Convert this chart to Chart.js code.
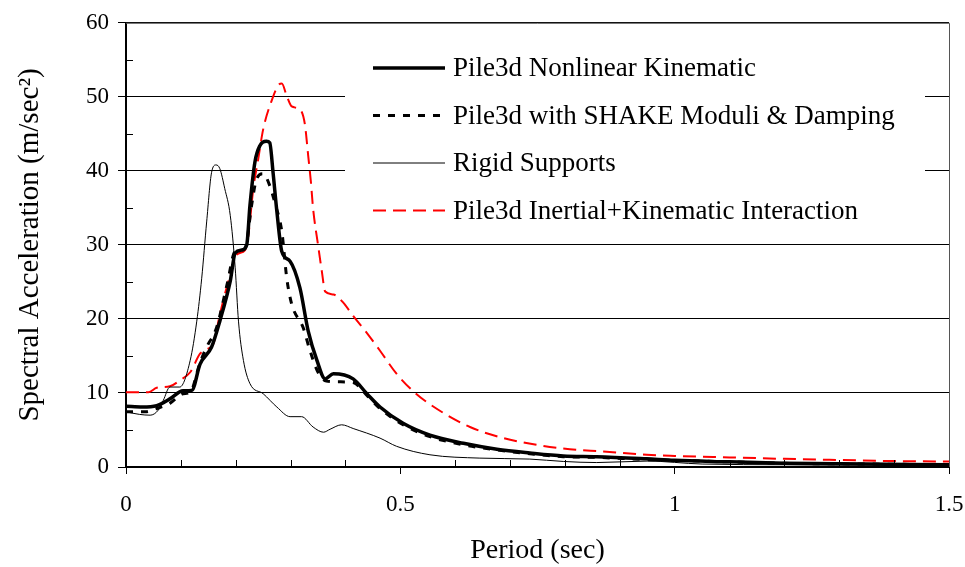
<!DOCTYPE html>
<html>
<head>
<meta charset="utf-8">
<title>Spectral Acceleration vs Period</title>
<script src="https://cdn.jsdelivr.net/npm/chart.js@4.4.1/dist/chart.umd.min.js"></script>
<style>
    body { margin: 0; background: #fff; }
    #wrap { width: 965px; height: 567px; position: relative; }
</style>
</head>
<body>
<div id="wrap"><canvas id="spectraChart"></canvas></div>
<script>
// Series data (period in sec, acceleration in m/sec^2)
const seriesNames = [
    'Pile3d Nonlinear Kinematic',
    'Pile3d with SHAKE Moduli & Damping',
    'Rigid Supports',
    'Pile3d Inertial+Kinematic Interaction'
];

const nonlinearPeriod = [0, 0.03, 0.056, 0.08, 0.104, 0.12, 0.135, 0.156, 0.171, 0.19, 0.199, 0.211, 0.22, 0.226, 0.235, 0.244, 0.256, 0.262, 0.268, 0.275, 0.284, 0.299, 0.317, 0.332, 0.348, 0.363, 0.378, 0.414, 0.439, 0.463, 0.505, 0.554, 0.615, 0.676, 0.736, 0.797, 0.858, 0.949, 1.0, 1.1, 1.2, 1.35, 1.5];
const nonlinearAccel = [8.2, 8.1, 8.3, 9.2, 10.3, 10.35, 13.9, 16.2, 19.7, 25.1, 28.9, 29.3, 30, 35.4, 41.2, 43.4, 44.0, 43.8, 39.8, 34.5, 29.1, 27.8, 24.2, 18.4, 14.4, 11.9, 12.6, 11.9, 9.9, 8.1, 5.9, 4.3, 3.2, 2.4, 1.9, 1.5, 1.4, 1.1, 0.9, 0.7, 0.5, 0.4, 0.3];

const shakePeriod = [0, 0.035, 0.056, 0.08, 0.104, 0.117, 0.135, 0.147, 0.165, 0.184, 0.199, 0.217, 0.229, 0.238, 0.25, 0.262, 0.272, 0.284, 0.293, 0.302, 0.323, 0.335, 0.35, 0.365, 0.39, 0.414, 0.44, 0.463, 0.505, 0.554, 0.615, 0.676, 0.736, 0.797, 0.858, 0.949, 1.0, 1.1, 1.2, 1.35, 1.5];
const shakeAccel = [7.45, 7.45, 7.9, 8.6, 9.9, 10.1, 14.1, 16.2, 18.8, 24.6, 29.1, 29.5, 35.4, 38.9, 39.6, 38.0, 35.5, 31.8, 25.5, 22.0, 18.8, 15.8, 12.8, 11.6, 11.5, 11.4, 9.6, 7.9, 5.7, 4.1, 3.0, 2.3, 1.8, 1.4, 1.3, 1.0, 0.9, 0.7, 0.5, 0.4, 0.3];

const rigidPeriod = [0, 0.025, 0.044, 0.059, 0.068, 0.08, 0.098, 0.117, 0.129, 0.138, 0.147, 0.156, 0.164, 0.171, 0.18, 0.19, 0.199, 0.205, 0.214, 0.226, 0.25, 0.275, 0.299, 0.32, 0.341, 0.36, 0.372, 0.393, 0.414, 0.463, 0.493, 0.554, 0.645, 0.736, 0.797, 0.858, 0.95, 1.05, 1.2, 1.5];
const rigidAccel = [7.45, 7.1, 7.0, 7.7, 9.0, 10.8, 10.8, 14.4, 19.7, 25.5, 33.1, 39.8, 40.8, 40.3, 37.6, 34, 26.9, 19.7, 14.4, 11.25, 9.9, 8.1, 6.8, 6.8, 5.4, 4.7, 5.1, 5.7, 5.2, 3.9, 2.8, 1.65, 1.2, 1.07, 0.75, 0.6, 0.8, 0.4, 0.3, 0.2];

const inertialPeriod = [0, 0.041, 0.056, 0.08, 0.098, 0.117, 0.135, 0.147, 0.159, 0.171, 0.19, 0.202, 0.217, 0.223, 0.232, 0.241, 0.25, 0.266, 0.278, 0.284, 0.293, 0.302, 0.317, 0.326, 0.332, 0.337, 0.341, 0.35, 0.357, 0.363, 0.378, 0.396, 0.414, 0.436, 0.463, 0.493, 0.527, 0.572, 0.627, 0.688, 0.748, 0.809, 0.87, 0.949, 1.0, 1.1, 1.2, 1.3, 1.4, 1.5];
const inertialAccel = [10.1, 10.1, 10.7, 10.9, 11.7, 12.8, 15.3, 15.9, 16.6, 20.6, 26, 28.7, 29.3, 31.3, 37.6, 41.6, 45.6, 49.6, 51.6, 51.8, 50.1, 48.7, 48.3, 46.3, 42.1, 38.5, 34.9, 30, 26.4, 23.7, 23.3, 22.2, 20.4, 18.4, 15.7, 12.6, 10.0, 7.6, 5.4, 3.9, 3.0, 2.4, 2.1, 1.65, 1.5, 1.3, 1.1, 0.95, 0.8, 0.75];

// Axis ticks
const xTickLabels = ['0', '0.5', '1', '1.5'];
const yTickLabels = ['0', '10', '20', '30', '40', '50', '60'];

const FONT = "'Liberation Serif', 'Times New Roman', serif";

function toPoints(xs, ys) {
    return xs.map((x, i) => ({ x: x, y: ys[i] }));
}

// Minor ticks, top/right frame and the boxed legend inside the plot
const decorPlugin = {
    id: 'decor',
    afterDraw(chart) {
        const ctx = chart.ctx;
        const area = chart.chartArea;
        const xs = chart.scales.x;
        const ys = chart.scales.y;
        ctx.save();

        // frame top + right
        ctx.strokeStyle = '#555';
        ctx.lineWidth = 1;
        ctx.beginPath();
        ctx.moveTo(area.left, area.top + 0.5);
        ctx.lineTo(area.right + 0.5, area.top + 0.5);
        ctx.lineTo(area.right + 0.5, area.bottom);
        ctx.stroke();

        // minor ticks pointing into the plot
        ctx.strokeStyle = '#000';
        ctx.beginPath();
        for (let v = 5; v < 60; v += 10) {
            const py = Math.round(ys.getPixelForValue(v)) + 0.5;
            ctx.moveTo(area.left, py);
            ctx.lineTo(area.left + 7, py);
        }
        for (let k = 1; k < 15; k++) {
            if (k % 5 === 0) continue;
            const px = Math.round(xs.getPixelForValue(k / 10)) + 0.5;
            ctx.moveTo(px, area.bottom);
            ctx.lineTo(px, area.bottom - 7);
        }
        ctx.stroke();
        ctx.restore();
    },
    afterDatasetsDraw(chart) {
        const ctx = chart.ctx;
        ctx.save();
        ctx.fillStyle = '#fff';
        ctx.fillRect(345, 45, 580, 188);

        ctx.font = '27px ' + FONT;
        ctx.textBaseline = 'middle';
        chart.data.datasets.forEach((ds, i) => {
            const y = 68 + i * 47.5;
            ctx.strokeStyle = ds.borderColor;
            ctx.lineWidth = ds.borderWidth;
            ctx.setLineDash(ds.borderDash || []);
            ctx.beginPath();
            ctx.moveTo(373, y);
            ctx.lineTo(445, y);
            ctx.stroke();
            ctx.setLineDash([]);
            ctx.fillStyle = '#000';
            ctx.fillText(ds.label, 453, y + 1);
        });
        ctx.restore();
    }
};

function renderChart() {
    const ctx = document.getElementById('spectraChart');
    new Chart(ctx, {
        type: 'scatter',
        data: {
            datasets: [
                {
                    label: seriesNames[0],
                    data: toPoints(nonlinearPeriod, nonlinearAccel),
                    borderColor: '#000',
                    borderWidth: 3.5
                },
                {
                    label: seriesNames[1],
                    data: toPoints(shakePeriod, shakeAccel),
                    borderColor: '#000',
                    borderWidth: 3,
                    borderDash: [7, 8]
                },
                {
                    label: seriesNames[2],
                    data: toPoints(rigidPeriod, rigidAccel),
                    borderColor: '#000',
                    borderWidth: 1
                },
                {
                    label: seriesNames[3],
                    data: toPoints(inertialPeriod, inertialAccel),
                    borderColor: '#ff0000',
                    borderWidth: 2,
                    borderDash: [13, 7]
                }
            ]
        },
        options: {
            responsive: true,
            maintainAspectRatio: false,
            animation: false,
            showLine: true,
            elements: {
                point: { radius: 0, hoverRadius: 0 },
                line: { cubicInterpolationMode: 'monotone', fill: false }
            },
            layout: { padding: { top: 19, right: 16, left: 0, bottom: 0 } },
            plugins: {
                legend: { display: false },
                tooltip: { enabled: false }
            },
            scales: {
                x: {
                    type: 'linear',
                    min: 0,
                    max: 1.5,
                    ticks: {
                        stepSize: 0.5,
                        color: '#000',
                        font: { family: FONT, size: 23 },
                        padding: 17,
                        maxRotation: 0,
                        callback: (v, i) => xTickLabels[i]
                    },
                    grid: { drawOnChartArea: false, drawTicks: true, tickLength: 7, color: '#000' },
                    border: { color: '#000', width: 2 },
                    title: {
                        display: true,
                        text: 'Period (sec)',
                        color: '#000',
                        font: { family: FONT, size: 28 },
                        padding: { top: 0, bottom: 0 }
                    },
                    afterFit: (scale) => {
                        scale.height = 100;
                        // let the last label hang into the right margin
                        scale.paddingRight = 0;
                        scale.paddingLeft = 0;
                    }
                },
                y: {
                    min: 0,
                    max: 60,
                    ticks: {
                        stepSize: 10,
                        color: '#000',
                        font: { family: FONT, size: 23 },
                        padding: 9,
                        callback: (v, i) => yTickLabels[i]
                    },
                    grid: { color: '#000', lineWidth: 1, tickLength: 8 },
                    border: { color: '#000', width: 2 },
                    title: {
                        display: true,
                        text: 'Spectral Acceleration (m/sec²)',
                        color: '#000',
                        font: { family: FONT, size: 29 },
                        padding: { top: 13, bottom: 0 }
                    },
                    afterFit: (scale) => { scale.width = 126; }
                }
            }
        },
        plugins: [decorPlugin]
    });
}

document.addEventListener('DOMContentLoaded', renderChart);
</script>
</body>
</html>
